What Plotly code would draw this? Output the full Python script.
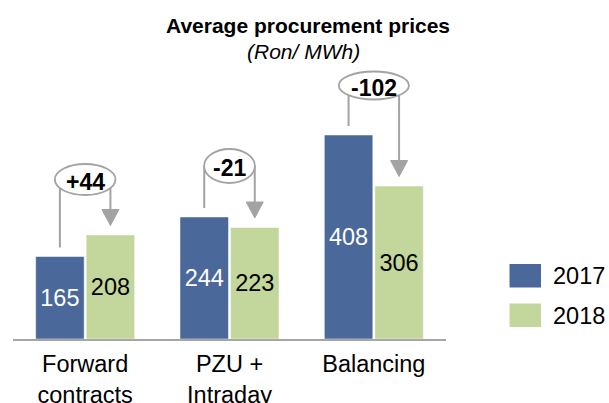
import plotly.graph_objects as go

# ---- data ----
categories = ["Forward<br>contracts", "PZU +<br>Intraday", "Balancing"]
series_names = ["2017", "2018"]
values_2017 = [165, 244, 408]
values_2018 = [208, 223, 306]
changes = ["+44", "-21", "-102"]

# ---- styles ----
W, H = 609, 403
L, R, T, B = 13, 163, 60, 64
PW, PH = W - L - R, H - T - B
FONT = "Liberation Sans, Arial, sans-serif"
C17, C18 = "#4A6899", "#C3D69B"
GREY = "#A3A3A3"
BARGAP = 0.30
YMAX = PH / 0.5  # 0.5 px per unit

def pxx(x):
    return (x - L) / PW

def pxy(y):
    return (H - B - y) / PH

xs = list(range(len(categories)))
fig = go.Figure()
fig.add_trace(go.Bar(x=xs, y=values_2017, name=series_names[0], marker=dict(color=C17, line=dict(color="white", width=0.5)),
                     text=[str(v) for v in values_2017], textposition="inside", insidetextanchor="middle",
                     textfont=dict(color="white", size=23.5, family=FONT), showlegend=False))
fig.add_trace(go.Bar(x=xs, y=values_2018, name=series_names[1], marker=dict(color=C18, line=dict(color="white", width=0.5)),
                     text=[str(v) for v in values_2018], textposition="inside", insidetextanchor="middle",
                     textfont=dict(color="black", size=23.5, family=FONT), showlegend=False))

# ---- change brackets ----
half = (1 - BARGAP) / 4          # offset of each bar centre from group centre
ell_rx = [0.210, 0.176, 0.243]   # ellipse half widths (x units)
ell_ry = [15.5, 17, 14]          # ellipse half heights (px)
ell_off = [111, 102, 99]         # ellipse centre above taller bar (y units)
gap = 18
ah_w, ah_h = 0.059, 32           # arrow head half width (x units), height (y units)
shapes = []
annotations = []
for i, (a, b, ch) in enumerate(zip(values_2017, values_2018, changes)):
    cy = max(a, b) + ell_off[i]
    ry = ell_ry[i] * 2
    xl, xr = i - half, i + half
    tip = b + gap + 1
    shapes.append(dict(type="line", x0=xl, x1=xl, y0=cy, y1=a + gap, xref="x", yref="y",
                       line=dict(color=GREY, width=2)))
    shapes.append(dict(type="line", x0=xr, x1=xr, y0=cy, y1=tip + ah_h - 2, xref="x", yref="y",
                       line=dict(color=GREY, width=2)))
    shapes.append(dict(type="path", xref="x", yref="y",
                       path=f"M {xr - ah_w} {tip + ah_h} L {xr + ah_w} {tip + ah_h} L {xr} {tip} Z",
                       fillcolor=GREY, line=dict(color=GREY, width=1)))
    shapes.append(dict(type="circle", xref="x", yref="y", x0=i - ell_rx[i], x1=i + ell_rx[i],
                       y0=cy - ry, y1=cy + ry, fillcolor="white", line=dict(color=GREY, width=1.8)))
    annotations.append(dict(x=i, y=cy, xref="x", yref="y", text=f"<b>{ch}</b>", showarrow=False,
                            yshift=-2,
                            font=dict(size=23, color="black", family=FONT), xanchor="center", yanchor="middle"))

# ---- legend (custom large squares) ----
for j, (nm, col) in enumerate(zip(series_names, [C17, C18])):
    y0 = 264 + j * 39.5
    shapes.append(dict(type="rect", xref="paper", yref="paper", x0=pxx(509.5), x1=pxx(541),
                       y0=pxy(y0 + 23.5), y1=pxy(y0), fillcolor=col, line=dict(width=0)))
    annotations.append(dict(x=pxx(551), y=pxy(y0 + 12), xref="paper", yref="paper", text=nm,
                            showarrow=False, xanchor="left", yanchor="middle",
                            font=dict(size=23.5, color="black", family=FONT)))

# ---- titles ----
annotations.append(dict(x=pxx(308), y=pxy(25.5), xref="paper", yref="paper",
                        text="<b>Average procurement prices</b>", showarrow=False, xanchor="center",
                        font=dict(size=21, color="black", family=FONT), yanchor="middle"))
annotations.append(dict(x=pxx(303), y=pxy(51), xref="paper", yref="paper",
                        text="<i>(Ron/ MWh)</i>", showarrow=False, xanchor="center",
                        font=dict(size=21, color="black", family=FONT), yanchor="middle"))

fig.update_layout(
    width=W, height=H, margin=dict(l=L, r=R, t=T, b=B, autoexpand=False),
    paper_bgcolor="white", plot_bgcolor="white",
    barmode="group", bargap=BARGAP, bargroupgap=0.04,
    shapes=shapes, annotations=annotations, showlegend=False,
    font=dict(family=FONT, color="black"),
)
fig.update_xaxes(range=[-0.5, 2.5], tickvals=xs, ticktext=categories, showline=True,
                 linecolor="#A6A6A6", linewidth=2, showgrid=False, zeroline=False, ticks="",
                 ticklabelstandoff=3,
                 tickfont=dict(size=23.5, color="black", family=FONT), fixedrange=True)
fig.update_yaxes(range=[0, YMAX], visible=False, showgrid=False, zeroline=False, fixedrange=True)

fig.write_html("out.html", config={"displayModeBar": False},
               post_script="document.body.style.margin='0';document.body.style.overflow='hidden';")
